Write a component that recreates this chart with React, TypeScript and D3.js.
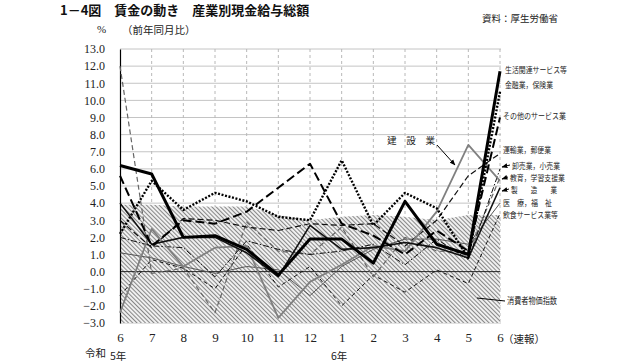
import { useEffect, useRef } from 'react'
import * as d3 from 'd3'

// months: 令和5年6月 .. 令和6年6月(速報)
const months = ['6', '7', '8', '9', '10', '11', '12', '1', '2', '3', '4', '5', '6']
const yTicks = d3.range(-3, 14, 1)

// 消費者物価指数 (hatched area)
const cpi = [3.9, 3.9, 3.8, 3.8, 3.8, 3.3, 3.0, 3.2, 3.3, 3.2, 3.0, 3.3, 3.3]

// 産業別 現金給与総額 前年同月比
const living = [6.2, 5.7, 2.0, 2.1, 1.3, -0.2, 1.9, 1.9, 0.5, 4.1, 1.6, 1.0, 11.7]
const finance = [2.2, 5.3, 3.6, 4.6, 4.1, 3.2, 3.0, 6.5, 2.7, 4.6, 3.7, 0.8, 10.5]
const otherServices = [5.6, 1.5, 3.0, 2.8, 3.5, 4.9, 6.3, 2.8, 2.1, 1.0, 2.4, 1.2, 9.0]
const construction = [-2.4, 2.5, 0.3, 1.4, 1.5, -2.7, -0.6, 0.4, 1.5, 1.2, 3.5, 7.4, 5.3]
const transport = [3.0, 1.4, 3.1, 3.0, 2.6, 2.4, 2.8, 2.7, 2.8, 1.5, 3.0, 5.6, 6.9]
const wholesale = [2.0, 1.5, 1.4, -0.3, 1.8, 1.3, 1.0, 1.2, 1.6, 0.4, 1.9, 0.7, 6.0]
const education = [12.0, -0.1, 0.2, -2.4, 2.9, 1.2, 1.0, 2.6, -0.3, 2.0, 1.2, 1.1, 5.5]
const manufacturing = [4.0, 1.6, 2.0, 2.0, 1.1, -0.3, 2.7, 1.3, 1.4, 1.7, 1.4, 0.8, 4.9]
const medical = [1.1, 0.8, 0.3, -0.1, 0.3, 0.1, -1.4, 0.3, 1.3, 1.9, 1.9, 1.6, 4.0]
const food = [-1.4, 0.7, 0.2, -1.0, 1.6, -0.9, 0.3, -2.0, -0.2, -1.2, 0.1, -0.7, 3.4]

const series = [
  { values: medical, color: '#555', width: 1, dash: null },
  { values: food, color: '#111', width: 1, dash: '4 3' },
  { values: education, color: '#666', width: 1.2, dash: '5 3' },
  { values: wholesale, color: '#111', width: 1, dash: '6 2 1.5 2' },
  { values: transport, color: '#111', width: 1.2, dash: '6 3' },
  { values: construction, color: '#808080', width: 1.8, dash: null },
  { values: manufacturing, color: '#111', width: 1.6, dash: null },
  { values: otherServices, color: '#000', width: 2, dash: '9 4' },
  { values: finance, color: '#000', width: 2.4, dash: '2 1.6' },
  { values: living, color: '#000', width: 3, dash: null },
]

// right-hand labels
const rightLabels = [
  { text: '生活関連サービス等', x: 505, y: 69, w: 62, arrow: false },
  { text: '金融業，保険業', x: 505, y: 84, w: 48, arrow: false },
  { text: 'その他のサービス業', x: 503, y: 115, w: 63, arrow: false },
  { text: '運輸業，郵便業', x: 503, y: 149, w: 48, arrow: false },
  { text: '卸売業，小売業', x: 512, y: 165, w: 48, arrow: true },
  { text: '教育，学習支援業', x: 510, y: 177, w: 55, arrow: true },
  { text: '製　　造　　業', x: 511, y: 189, w: 46, arrow: true },
  { text: '医　療，福　祉', x: 503, y: 202, w: 49, arrow: false },
  { text: '飲食サービス業等', x: 503, y: 214, w: 55, arrow: false },
]

const JP = '"Noto Sans CJK JP", sans-serif'
const NUM = '"Liberation Serif", "DejaVu Serif", serif'

export default function App() {
  const ref = useRef<SVGSVGElement>(null)

  useEffect(() => {
    const svg = d3.select(ref.current)
    svg.selectAll('*').remove()

    const x = d3.scalePoint<number>().domain(d3.range(months.length)).range([120, 500])
    const y = d3.scaleLinear().domain([-3, 13]).range([323, 49])

    const defs = svg.append('defs')
    const pat = defs.append('pattern')
      .attr('id', 'hatch')
      .attr('patternUnits', 'userSpaceOnUse')
      .attr('width', 3)
      .attr('height', 3)
      .attr('patternTransform', 'rotate(-45)')
    pat.append('rect').attr('width', 3).attr('height', 3).attr('fill', '#f2f2f2')
    pat.append('line').attr('x1', 0.5).attr('y1', 0).attr('x2', 0.5).attr('y2', 3)
      .attr('stroke', '#888').attr('stroke-width', 1.1)

    const mk = defs.append('marker')
      .attr('id', 'arr')
      .attr('viewBox', '0 0 10 10')
      .attr('refX', 9).attr('refY', 5)
      .attr('markerWidth', 6).attr('markerHeight', 6)
      .attr('orient', 'auto')
    mk.append('path').attr('d', 'M0,1 L10,5 L0,9 Z').attr('fill', '#000')

    // grid
    svg.append('g').selectAll('line').data(yTicks).join('line')
      .attr('x1', 120).attr('x2', 501)
      .attr('y1', d => y(d)).attr('y2', d => y(d))
      .attr('stroke', '#c4c4c4').attr('stroke-width', 1)
    svg.append('g').selectAll('line').data(d3.range(1, months.length)).join('line')
      .attr('x1', d => x(d)!).attr('x2', d => x(d)!)
      .attr('y1', y(13)).attr('y2', y(-3))
      .attr('stroke', '#b8b8b8').attr('stroke-dasharray', '3 3')

    // CPI hatched area
    const area = d3.area<number>()
      .x((_, i) => x(i)!)
      .y0(y(-3))
      .y1(d => y(d))
    svg.append('path').datum(cpi).attr('d', area).attr('fill', 'url(#hatch)')

    // zero line
    svg.append('line')
      .attr('x1', 120).attr('x2', 500)
      .attr('y1', y(0)).attr('y2', y(0))
      .attr('stroke', '#222').attr('stroke-width', 1)

    // y axis
    const ya = svg.append('g')
      .attr('transform', 'translate(120,0)')
      .call(d3.axisLeft(y).tickValues(yTicks).tickSize(0).tickPadding(15).tickFormat(d3.format('.1f')))
    ya.select('.domain').attr('stroke', '#000').attr('stroke-width', 1.2)
    ya.selectAll('text').attr('font-family', NUM).attr('font-size', 12).attr('fill', '#222')
      .text(d => d3.format('.1f')(d as number).replace('-', '−'))

    // x axis labels
    const xa = svg.append('g')
      .attr('transform', `translate(0,${y(-3)})`)
      .call(d3.axisBottom(x).tickSize(0).tickPadding(10).tickFormat(i => months[i as number]))
    xa.select('.domain').remove()
    xa.selectAll('text').attr('font-family', NUM).attr('font-size', 13).attr('fill', '#222')

    // lines
    const line = d3.line<number>().x((_, i) => x(i)!).y(d => y(d))
    series.forEach(s => {
      svg.append('path').datum(s.values)
        .attr('d', line)
        .attr('fill', 'none')
        .attr('stroke', s.color)
        .attr('stroke-width', s.width)
        .attr('stroke-dasharray', s.dash)
        .attr('stroke-linejoin', 'round')
    })

    // texts
    const txt = (t: string, tx: number, ty: number, size: number, opts: any = {}) =>
      svg.append('text')
        .attr('x', tx).attr('y', ty)
        .attr('dominant-baseline', 'central')
        .attr('font-family', opts.family || JP)
        .attr('font-size', size)
        .attr('font-weight', opts.bold ? 700 : 400)
        .attr('fill', opts.color || '#222')
        .attr('text-anchor', opts.anchor || 'start')
        .text(t)

    txt('1－4図　賃金の動き　産業別現金給与総額', 60, 9, 13, { bold: true, color: '#111' })
    txt('資料：厚生労働省', 482, 18, 9.5)
    txt('%', 97, 29, 11, { family: NUM })
    txt('（前年同月比）', 122, 29, 10.5)

    txt('令和', 85, 352, 10.5)
    txt('5年', 110, 355, 10.5)
    txt('6年', 331, 355, 10.5)
    txt('（速報）', 503, 338, 10.5)

    rightLabels.forEach(l => {
      txt(l.text, l.x, l.y, 8)
        .attr('textLength', l.w)
        .attr('lengthAdjust', 'spacingAndGlyphs')
      if (l.arrow) {
        svg.append('line')
          .attr('x1', l.x - 2).attr('y1', l.y)
          .attr('x2', 502).attr('y2', l.y + 2)
          .attr('stroke', '#000').attr('stroke-width', 1)
          .attr('marker-end', 'url(#arr)')
      }
    })

    txt('建　設　業', 387, 140, 9).attr('textLength', 48).attr('lengthAdjust', 'spacingAndGlyphs')
    svg.append('line')
      .attr('x1', 437).attr('y1', 145).attr('x2', 455).attr('y2', 165)
      .attr('stroke', '#000').attr('stroke-width', 1)
      .attr('marker-end', 'url(#arr)')

    txt('消費者物価指数', 507, 300, 9).attr('textLength', 50).attr('lengthAdjust', 'spacingAndGlyphs')
    svg.append('line')
      .attr('x1', 477).attr('y1', 298).attr('x2', 505).attr('y2', 301)
      .attr('stroke', '#000').attr('stroke-width', 1)
  }, [])

  return (
    <svg
      ref={ref}
      width={640}
      height={362}
      style={{ position: 'absolute', left: 0, top: 0, background: '#fff' }}
    />
  )
}
